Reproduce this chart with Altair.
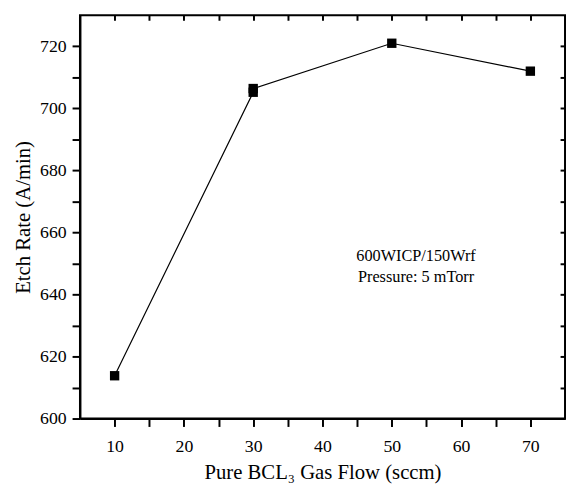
import altair as alt
import pandas as pd

flow = [10, 30, 30, 50, 70]
etch = [613.8, 705.2, 706.4, 721.0, 712.0]
note_lines = ["600WICP/150Wrf", "Pressure: 5 mTorr"]
x_ticks = [10, 15, 20, 25, 30, 35, 40, 45, 50, 55, 60, 65, 70]
y_ticks = [600, 610, 620, 630, 640, 650, 660, 670, 680, 690, 700, 710, 720]

df = pd.DataFrame({"flow": flow, "etch": etch})

FONT = "Liberation Serif"
xs = alt.Scale(domain=[5, 75], nice=False, zero=False)
ys = alt.Scale(domain=[600, 730], nice=False, zero=False)

x_axis = alt.Axis(values=x_ticks, labelExpr="datum.value % 10 === 0 ? datum.label : ''",
                  grid=False, domainColor="black", domainWidth=2, tickColor="black", tickWidth=2,
                  tickSize=8, labelFont=FONT, labelFontSize=18, labelColor="black",
                  labelPadding=11, title="Pure BCL\u2083 Gas Flow (sccm)", titleFont=FONT,
                  titleFontSize=21, titleFontWeight="normal", titleColor="black", titlePadding=7)
y_axis = alt.Axis(values=y_ticks, labelExpr="datum.value % 20 === 0 ? datum.label : ''",
                  grid=False, domainColor="black", domainWidth=2, tickColor="black", tickWidth=2,
                  tickSize=8, labelFont=FONT, labelFontSize=18, labelColor="black",
                  labelPadding=6, title="Etch Rate (A/min)", titleFont=FONT,
                  titleFontSize=21, titleFontWeight="normal", titleColor="black", titlePadding=6)

x_top = alt.Axis(orient="top", values=x_ticks, labels=False, domain=False, grid=False,
                 tickColor="black", tickWidth=2, tickSize=5, offset=-5, title=None)
y_right = alt.Axis(orient="right", values=y_ticks, labels=False, domain=False, grid=False,
                   tickColor="black", tickWidth=2, tickSize=5, offset=-5, title=None)

base = alt.Chart(df)

line = base.mark_line(color="black", strokeWidth=1.2).encode(
    x=alt.X("flow:Q", scale=xs, axis=x_axis),
    y=alt.Y("etch:Q", scale=ys, axis=y_axis),
)
pts = base.mark_point(shape="square", filled=True, color="black", opacity=1, size=90).encode(
    x=alt.X("flow:Q", scale=xs, axis=x_axis),
    y=alt.Y("etch:Q", scale=ys, axis=y_axis),
)
main = alt.layer(line, pts)

mirror = base.mark_point(opacity=0).encode(
    x=alt.X("flow:Q", scale=xs, axis=x_top),
    y=alt.Y("etch:Q", scale=ys, axis=y_right),
)

note1 = alt.Chart(pd.DataFrame({"t": [note_lines[0]]})).mark_text(
    font=FONT, fontSize=16.5, color="black", align="center", baseline="middle"
).encode(text="t:N", x=alt.XDatum(53.5, axis=None), y=alt.YDatum(652.5, axis=None))
note2 = alt.Chart(pd.DataFrame({"t": [note_lines[1]]})).mark_text(
    font=FONT, fontSize=16.5, color="black", align="center", baseline="middle"
).encode(text="t:N", x=alt.XDatum(53.5, axis=None), y=alt.YDatum(645.5, axis=None))

chart = alt.layer(main, mirror, note1, note2).resolve_axis(
    x="independent", y="independent"
).properties(
    width=492, height=409, autosize="none",
    padding={"left": 73, "top": 4, "right": 1, "bottom": 66},
).configure_view(stroke="black", strokeWidth=2)

chart.save("out.html", embed_options={"renderer": "svg", "actions": False})
